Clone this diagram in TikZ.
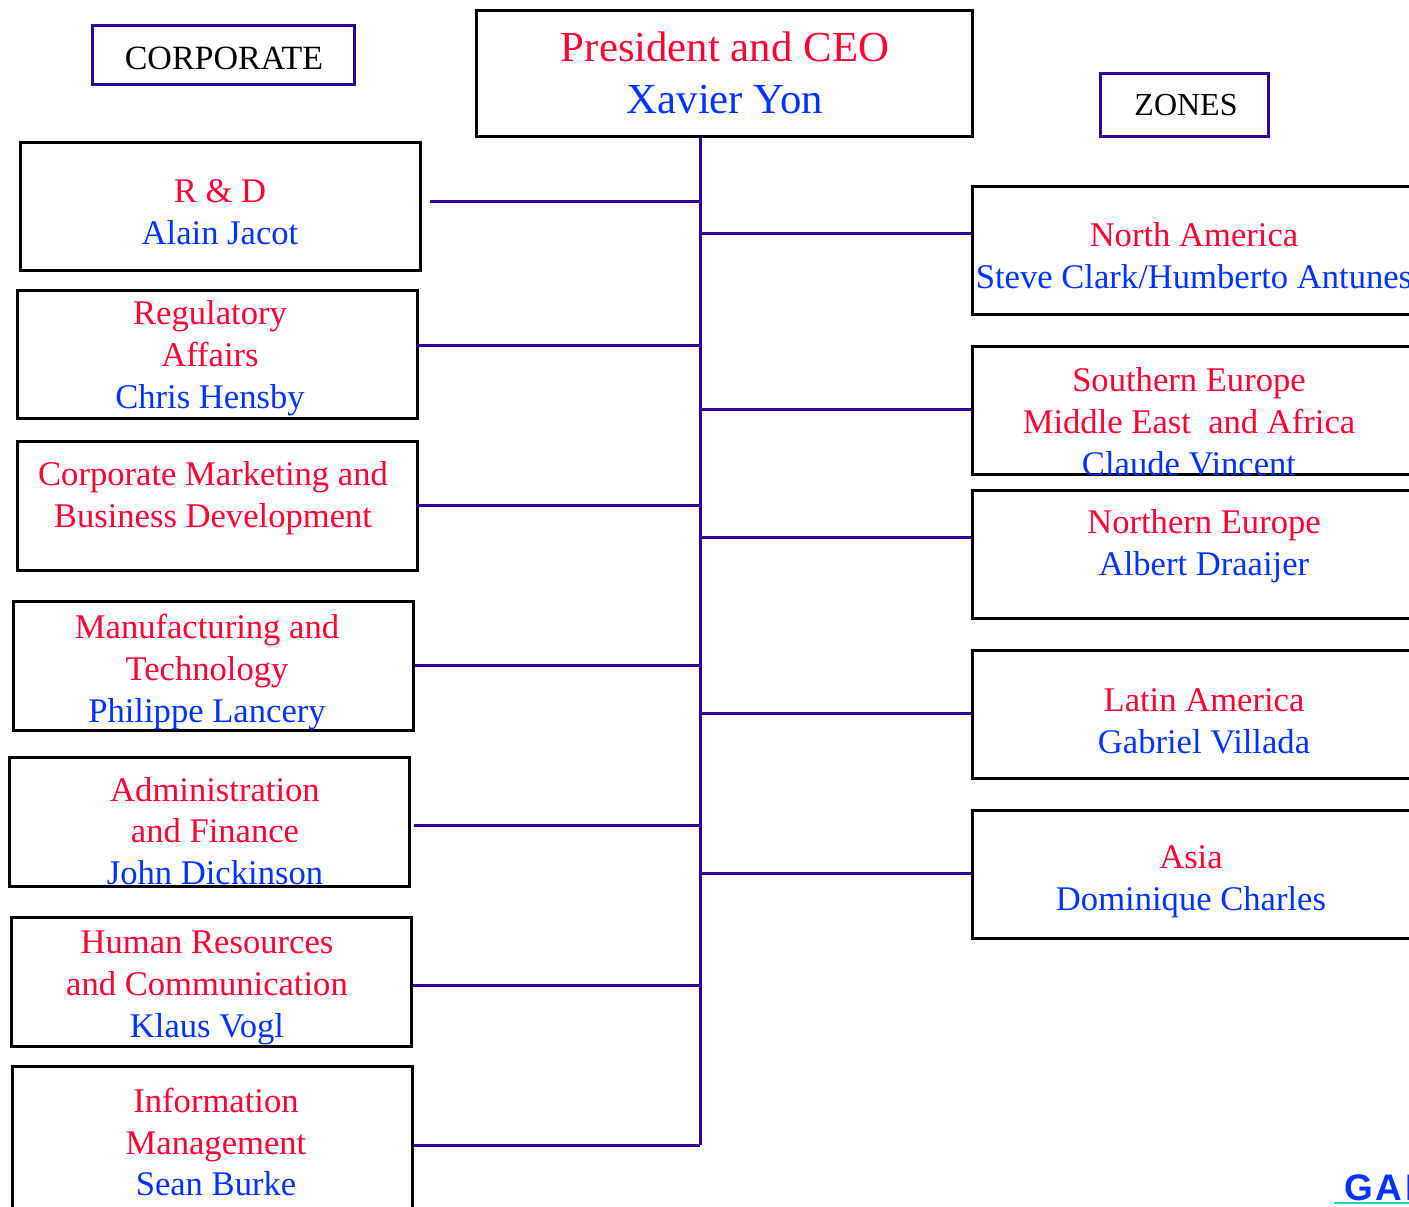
\documentclass[tikz,border=0pt]{standalone}
\usepackage{fontspec}
\setmainfont{Liberation Serif}
\newfontfamily\galfont[LetterSpace=7]{Liberation Sans}
\definecolor{tred}{RGB}{255,0,51}
\definecolor{tblue}{RGB}{0,51,255}
\definecolor{lpurple}{RGB}{51,0,153}
\definecolor{gteal}{RGB}{40,210,170}
\tikzset{
  box/.style={draw=black, line width=1.5pt, minimum width=200pt, minimum height=64pt, inner sep=0pt},
  rbox/.style={draw=black, line width=1.5pt, minimum width=234pt, minimum height=64pt, inner sep=0pt},
  tagbox/.style={draw=lpurple, line width=1.5pt, inner sep=0pt, font=\fontsize{17}{20}\selectfont},
  conn/.style={draw=lpurple, line width=1.5pt},
  txt/.style={align=center, inner sep=0pt, font=\fontsize{17.3}{20.9}\selectfont}
}
\newcommand{\R}[1]{\textcolor{tred}{#1}}
\newcommand{\B}[1]{\textcolor{tblue}{#1}}
\begin{document}
\begin{tikzpicture}[x=0.5pt,y=-0.5pt]
\path[use as bounding box, clip] (0,0) rectangle (1409,1206);
\fill[white] (0,0) rectangle (1409,1206);

% header boxes
\node[tagbox, minimum width=131pt, minimum height=29.5pt] (corp) at (223,54.5) {};
\node[font=\fontsize{17}{20}\selectfont, inner sep=0pt] (corpt) at (224,58) {CORPORATE};
\node[tagbox, minimum width=84pt, minimum height=31.5pt] (zones) at (1184,104.5) {};
\node[font=\fontsize{16}{20}\selectfont, inner sep=0pt] (zonest) at (1186,105) {ZONES};
\node[draw=black, line width=1.5pt, minimum width=248pt, minimum height=63pt, inner sep=0pt] (ceo) at (724,73) {};
\node[txt, font=\fontsize{21.4}{26}\selectfont] (ceot) at (725,73) {\R{President and CEO}\\\B{Xavier Yon}};

% left boxes
\node[box] (b1) at (220,206) {};
\node[box] (b2) at (217,354) {};
\node[box, minimum height=64.5pt] (b3) at (217,505.5) {};
\node[box, minimum height=64.5pt] (b4) at (213,665.5) {};
\node[box, minimum height=64.5pt] (b5) at (209,821.5) {};
\node[box, minimum height=64.5pt] (b6) at (211,981.5) {};
\node[box, minimum height=87pt] (b7) at (212,1153) {};

\node[txt] (t1) at (220,212) {\R{R \& D}\\\B{Alain Jacot}};
\node[txt] (t2) at (210,358) {\R{Regulatory}\\\R{Affairs}\\\B{Chris Hensby}};
\node[txt] (t3) at (213,498) {\R{Corporate Marketing and}\\\R{Business Development}};
\node[txt] (t4) at (207,672) {\R{Manufacturing and}\\\R{Technology}\\\B{Philippe Lancery}};
\node[txt] (t5) at (215,831) {\R{Administration}\\\R{and Finance}\\\B{John Dickinson}};
\node[txt] (t6) at (207,988) {\R{Human Resources}\\\R{and Communication}\\\B{Klaus Vogl}};
\node[txt] (t7) at (216,1142) {\R{Information}\\\R{Management}\\\B{Sean Burke}};

% right boxes
\node[rbox] (r1) at (1206,250) {};
\node[rbox] (r2) at (1206,410) {};
\node[rbox] (r3) at (1206,554) {};
\node[rbox] (r4) at (1206,714) {};
\node[rbox] (r5) at (1206,874) {};

\node[txt] (s1) at (1194,256) {\R{North America}\\\B{Steve Clark/Humberto Antunes}};
\node[txt] (s2) at (1189,422) {\R{Southern Europe}\\\R{Middle East\ \ and Africa}\\\B{Claude Vincent}};
\node[txt] (s3) at (1204,546) {\R{Northern Europe}\\\B{Albert Draaijer}};
\node[txt] (s4) at (1204,721) {\R{Latin America}\\\B{Gabriel Villada}};
\node[txt] (s5) at (1191,882) {\R{Asia}\\\B{Dominique Charles}};

% trunk
\coordinate (trunk) at (700,1145);
\draw[conn] (ceo.south -| trunk) -- (trunk);

% left connectors
\coordinate (l1) at (700,201);
\coordinate (l2) at (700,345);
\coordinate (l3) at (700,505);
\coordinate (l4) at (700,665);
\coordinate (l5) at (700,825);
\coordinate (l6) at (700,985);
\draw[conn] (l1) -- ([xshift=4pt]l1 -| b1.east);
\draw[conn] (l2) -- ([xshift=-1pt]l2 -| b2.east);
\draw[conn] (l3) -- ([xshift=-1pt]l3 -| b3.east);
\draw[conn] (l4) -- (l4 -| b4.east);
\draw[conn] (l5) -- ([xshift=1.5pt]l5 -| b5.east);
\draw[conn] (l6) -- (l6 -| b6.east);
\draw[conn] (trunk) -- (trunk -| b7.east);

% right connectors
\coordinate (m1) at (700,233);
\coordinate (m2) at (700,409);
\coordinate (m3) at (700,537);
\coordinate (m4) at (700,713);
\coordinate (m5) at (700,873);
\draw[conn] (m1) -- (m1 -| r1.west);
\draw[conn] (m2) -- (m2 -| r2.west);
\draw[conn] (m3) -- (m3 -| r3.west);
\draw[conn] (m4) -- (m4 -| r4.west);
\draw[conn] (m5) -- (m5 -| r5.west);

% logo fragment (cut at the edge, as in the reference)
\node[anchor=base west, inner sep=0pt, text=tblue, font=\galfont\bfseries\fontsize{18.5}{20}\selectfont] (gal) at (1344,1200) {GAL};
\coordinate (u1) at (1334,1203);
\coordinate (u2) at (1420,1203);
\draw[gteal, line width=1pt] (u1) -- (u2);
\end{tikzpicture}
\end{document}
